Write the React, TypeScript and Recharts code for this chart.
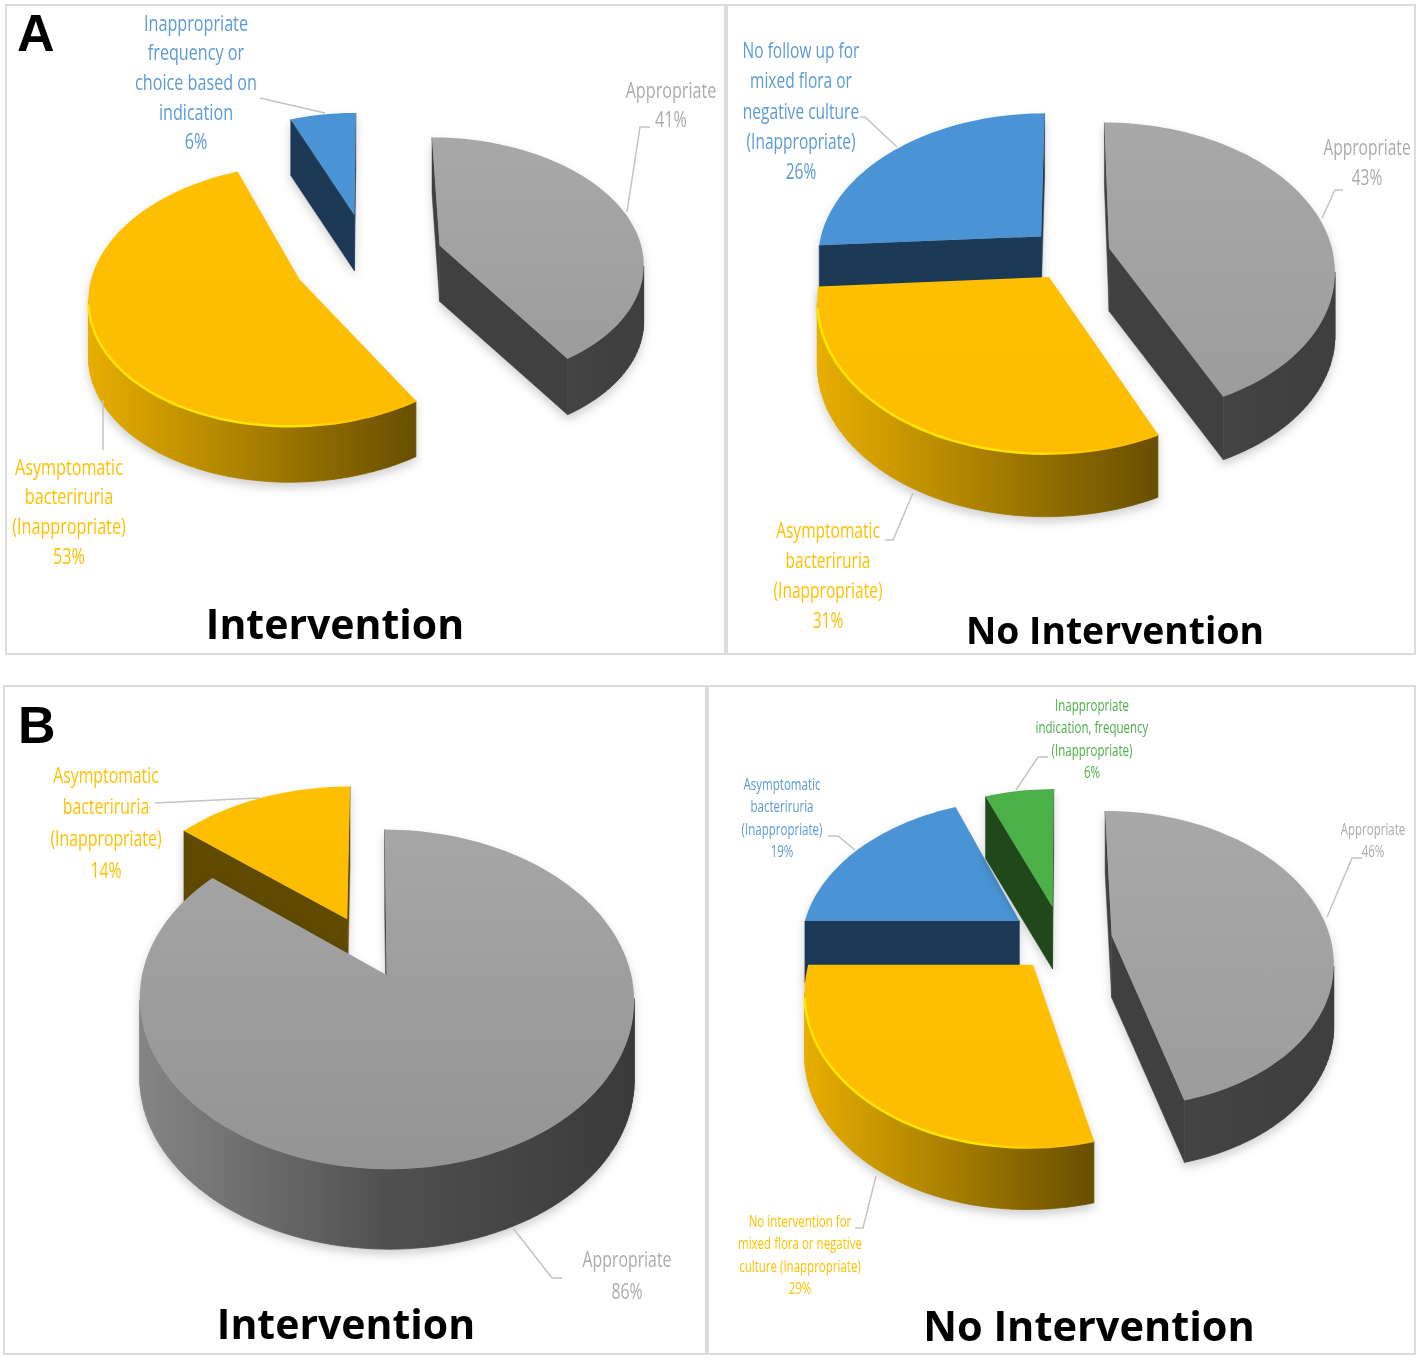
import React from 'react';
import { PieChart, Pie } from 'recharts';

// panel A, intervention
const aiNames = [['Appropriate'], ['Asymptomatic', 'bacteriruria', '(Inappropriate)'], ['Inappropriate', 'frequency or', 'choice based on', 'indication']];
const aiValues = [41, 53, 6];
const aiColors = ['grey', 'yellow', 'blue'];

// panel A, no intervention (blue first so yellow paints over its wall)
const anNames = [['No follow up for', 'mixed flora or', 'negative culture', '(Inappropriate)'], ['Appropriate'], ['Asymptomatic', 'bacteriruria', '(Inappropriate)']];
const anValues = [26, 43, 31];
const anColors = ['blue', 'grey', 'yellow'];

// panel B, intervention (yellow first so the big slice paints over it)
const biNames = [['Asymptomatic', 'bacteriruria', '(Inappropriate)'], ['Appropriate']];
const biValues = [14, 86];
const biColors = ['yellow', 'greyBig'];

// panel B, no intervention
const bnNames = [['Asymptomatic', 'bacteriruria', '(Inappropriate)'], ['Inappropriate', 'indication, frequency', '(Inappropriate)'], ['Appropriate'], ['No intervention for', 'mixed flora or negative', 'culture (Inappropriate)']];
const bnValues = [19, 6, 46, 29];
const bnColors = ['blue', 'green', 'grey', 'yellow'];

const PALETTE: Record<string, any> = {
  grey: { top: '#a8a8a8', topEnd: '#9c9c9c', cut: '#404040', wall: ['#444444', '#404040', '#3e3e3e'], text: '#ababab' },
  greyBig: { top: '#a6a6a6', topEnd: '#949494', cut: '#404040', wall: ['#858585', '#505050', '#3a3a3a'], text: '#ababab' },
  yellow: { top: '#ffc000', topEnd: '#fdbc00', cut: '#604a00', wall: ['#e8ae00', '#a87f00', '#684e00'], text: '#ffc000', rim: '#ffe600' },
  blue: { top: '#4a94d6', topEnd: '#4a94d6', cut: '#1c3a56', wall: ['#1c3a56', '#1c3a56', '#1c3a56'], text: '#5b9bd5' },
  green: { top: '#4bb047', topEnd: '#4bb047', cut: '#20481b', wall: ['#20481b', '#20481b', '#20481b'], text: '#4bb047' },
};

type Label = { x: number; ys: number[]; size: number; line: number[][] };

const PANELS = [
  {
    id: 'ai', names: aiNames, values: aiValues, colors: aiColors, cx: 368, cy: 258, r: 204, tilt: 0.607, persp: 0.12, explode: [0.37, 0.37, 0.37], depth: 56, startAngle: 90, textScale: 0.77,
    labels: [
      { x: 671, ys: [91, 120], size: 21, line: [[650, 127], [640, 127], [627, 212]] },
      { x: 69, ys: [468, 497, 527, 557], size: 21, line: [[103, 400], [103, 450]] },
      { x: 196, ys: [24, 53, 83, 113, 142], size: 21, line: [[260, 98], [325, 113]] },
    ] as Label[],
  },
  {
    id: 'an', names: anNames, values: anValues, colors: anColors, cx: 1070, cy: 254, r: 224, tilt: 0.647, persp: 0.14, explode: [0.18, 0.18, 0.18], depth: 63, startAngle: 183.6, textScale: 0.74,
    labels: [
      { x: 801, ys: [51, 81, 112, 142, 172], size: 21, line: [[860, 117], [865, 117], [897, 147]] },
      { x: 1367, ys: [148, 178], size: 21, line: [[1343, 190], [1335, 190], [1322, 218]] },
      { x: 828, ys: [531, 561, 591, 621], size: 21, line: [[885, 540], [893, 540], [913, 493]] },
    ] as Label[],
  },
  {
    id: 'bi', names: biNames, values: biValues, colors: biColors, cx: 371, cy: 953, r: 240, tilt: 0.667, persp: 0.14, explode: [0.24, 0.15], depth: 80, startAngle: 140.4, textScale: 0.72,
    labels: [
      { x: 106, ys: [775, 806, 838, 870], size: 22, line: [[155, 803], [260, 798]] },
      { x: 627, ys: [1259, 1291], size: 22, line: [[513, 1228], [552, 1278], [562, 1278]] },
    ] as Label[],
  },
  {
    id: 'bn', names: bnNames, values: bnValues, colors: bnColors, cx: 1062, cy: 940, r: 219, tilt: 0.665, persp: 0.156, explode: [0.24, 0.24, 0.23, 0.21], depth: 62, startAngle: 180, textScale: 0.72,
    labels: [
      { x: 782, ys: [784, 806, 829, 851], size: 16, line: [[828, 836], [838, 836], [855, 850]] },
      { x: 1092, ys: [705, 727, 750, 772], size: 16, line: [[1048, 757], [1038, 757], [1016, 790]] },
      { x: 1373, ys: [829, 851], size: 16, line: [[1362, 858], [1352, 858], [1327, 917]] },
      { x: 800, ys: [1221, 1243, 1266, 1288], size: 16, line: [[855, 1228], [863, 1228], [876, 1176]] },
    ] as Label[],
  },
];

const FRAMES = [
  { left: 5, top: 4, width: 721, height: 651 },
  { left: 726, top: 4, width: 690, height: 651 },
  { left: 3, top: 685, width: 704, height: 670 },
  { left: 707, top: 685, width: 709, height: 670 },
];

const TITLES = [
  { text: 'Intervention', x: 335, y: 623, size: 41 },
  { text: 'No Intervention', x: 1115, y: 630, size: 37.3 },
  { text: 'Intervention', x: 346, y: 1323, size: 41 },
  { text: 'No Intervention', x: 1089, y: 1325, size: 41.5 },
];

const RAD = Math.PI / 180;

const sliceShape = (panel: any) => (props: any) => {
  const { cx, cy, outerRadius: r, startAngle: s, endAngle: e, index } = props;
  const pal = PALETTE[panel.colors[index]];
  const a = r * panel.tilt;
  const k = panel.persp;
  const mid = ((s + e) / 2) * RAD;
  const ox = panel.explode[index] * Math.cos(mid);
  const oy = -panel.explode[index] * Math.sin(mid);
  const project = (X: number, Y: number) => {
    const w = 1 - k * Y;
    return [cx + (r * X) / w, cy + (a * Y) / w];
  };
  const arc: number[][] = [];
  const steps = Math.max(2, Math.ceil(Math.abs(s - e) / 2));
  for (let i = 0; i <= steps; i++) {
    const t = (s + ((e - s) * i) / steps) * RAD;
    arc.push(project(ox + Math.cos(t), oy - Math.sin(t)));
  }
  const apex = project(ox, oy);
  const toD = (pts: number[][]) => 'M' + pts.map((p) => `${p[0].toFixed(1)},${p[1].toFixed(1)}`).join('L') + 'Z';
  const d = panel.depth;
  const quad = (A: number[], B: number[]) => toD([A, B, [B[0], B[1] + d], [A[0], A[1] + d]]);

  let rimWall = '';
  let rimLine = '';
  for (let i = 0; i < arc.length - 1; i++) {
    if (arc[i + 1][0] < arc[i][0] && arc[i][1] > apex[1] - 40) {
      rimWall += quad(arc[i], arc[i + 1]);
      rimLine += (rimLine ? 'L' : 'M') + `${arc[i][0].toFixed(1)},${arc[i][1].toFixed(1)}`;
    }
  }
  const last = arc[arc.length - 1];
  const cuts = [[last, apex], [apex, arc[0]]].filter(([A, B]) => B[0] < A[0]);
  const wallId = `wall-${panel.id}-${index}`;
  const topId = `top-${panel.id}-${index}`;
  const rimId = `rim-${panel.id}-${index}`;

  return (
    <g style={{ filter: 'drop-shadow(0px 5px 5px rgba(0,0,0,0.18))' }}>
      <defs>
        <linearGradient id={wallId} x1="0" y1="0" x2="1" y2="0">
          <stop offset="0%" stopColor={pal.wall[0]} />
          <stop offset="50%" stopColor={pal.wall[1]} />
          <stop offset="100%" stopColor={pal.wall[2]} />
        </linearGradient>
        <linearGradient id={topId} x1="0" y1="0" x2="0" y2="1">
          <stop offset="0%" stopColor={pal.top} />
          <stop offset="100%" stopColor={pal.topEnd} />
        </linearGradient>
        <linearGradient id={rimId} x1="0" y1="0" x2="1" y2="0">
          <stop offset="0%" stopColor={pal.rim || pal.top} />
          <stop offset="60%" stopColor={pal.rim || pal.top} />
          <stop offset="85%" stopColor={pal.top} />
        </linearGradient>
      </defs>
      {cuts.map(([A, B], i) => (
        <path key={i} d={quad(A, B)} fill={pal.cut} stroke={pal.cut} strokeWidth={0.5} />
      ))}
      {rimWall && <path d={rimWall} fill={`url(#${wallId})`} stroke={`url(#${wallId})`} strokeWidth={0.8} />}
      <path d={toD([...arc, apex])} fill={`url(#${topId})`} />
      {pal.rim && rimLine && <path d={rimLine} fill="none" stroke={`url(#${rimId})`} strokeWidth={2.5} />}
    </g>
  );
};

const sliceLabel = (panel: any) => (props: any) => {
  const { index } = props;
  const spec: Label = panel.labels[index];
  const lines = [...panel.names[index], `${panel.values[index]}%`];
  const color = PALETTE[panel.colors[index]].text;
  return (
    <g key={index}>
      <polyline points={spec.line.map((p) => p.join(',')).join(' ')} fill="none" stroke="#c4c4c4" strokeWidth={1.5} />
      {lines.map((t: string, i: number) => (
        <text
          key={i}
          transform={`translate(${spec.x},${spec.ys[i]}) scale(${panel.textScale},1)`}
          dy="0.35em"
          textAnchor="middle"
          fill={color}
          fontSize={spec.size}
          fontFamily="'Open Sans', sans-serif"
        >
          {t}
        </text>
      ))}
    </g>
  );
};

const App = () => (
  <div style={{ position: 'absolute', left: 0, top: 0, width: 1418, height: 1360, background: '#fff', overflow: 'hidden', filter: 'blur(0.6px)' }}>
    {FRAMES.map((f, i) => (
      <div key={i} style={{ position: 'absolute', left: f.left, top: f.top, width: f.width, height: f.height, boxSizing: 'border-box', border: '2px solid #dcdcdc' }} />
    ))}
    <div style={{ position: 'absolute', left: 0, top: 0 }}>
      <PieChart width={1418} height={1360} margin={{ top: 0, right: 0, bottom: 0, left: 0 }}>
        {PANELS.map((panel) => (
          <Pie
            key={panel.id}
            data={panel.values.map((value, i) => ({ name: panel.names[i].join(' '), value }))}
            dataKey="value"
            cx={panel.cx}
            cy={panel.cy}
            outerRadius={panel.r}
            startAngle={panel.startAngle}
            endAngle={panel.startAngle - 360}
            isAnimationActive={false}
            shape={sliceShape(panel)}
            label={sliceLabel(panel)}
            labelLine={false}
            stroke="none"
          />
        ))}
      </PieChart>
    </div>
    {TITLES.map((t, i) => (
      <div key={i} style={{ position: 'absolute', left: t.x - 300, width: 600, top: t.y - 30, height: 60, lineHeight: '60px', textAlign: 'center', fontFamily: "'Open Sans', sans-serif", fontWeight: 700, fontSize: t.size, color: '#000' }}>
        {t.text}
      </div>
    ))}
    <div style={{ position: 'absolute', left: 17, top: 4, fontFamily: "'Liberation Sans', sans-serif", fontWeight: 700, fontSize: 52, lineHeight: '58px' }}>A</div>
    <div style={{ position: 'absolute', left: 18, top: 696, fontFamily: "'Liberation Sans', sans-serif", fontWeight: 700, fontSize: 52, lineHeight: '58px' }}>B</div>
  </div>
);

export default App;
